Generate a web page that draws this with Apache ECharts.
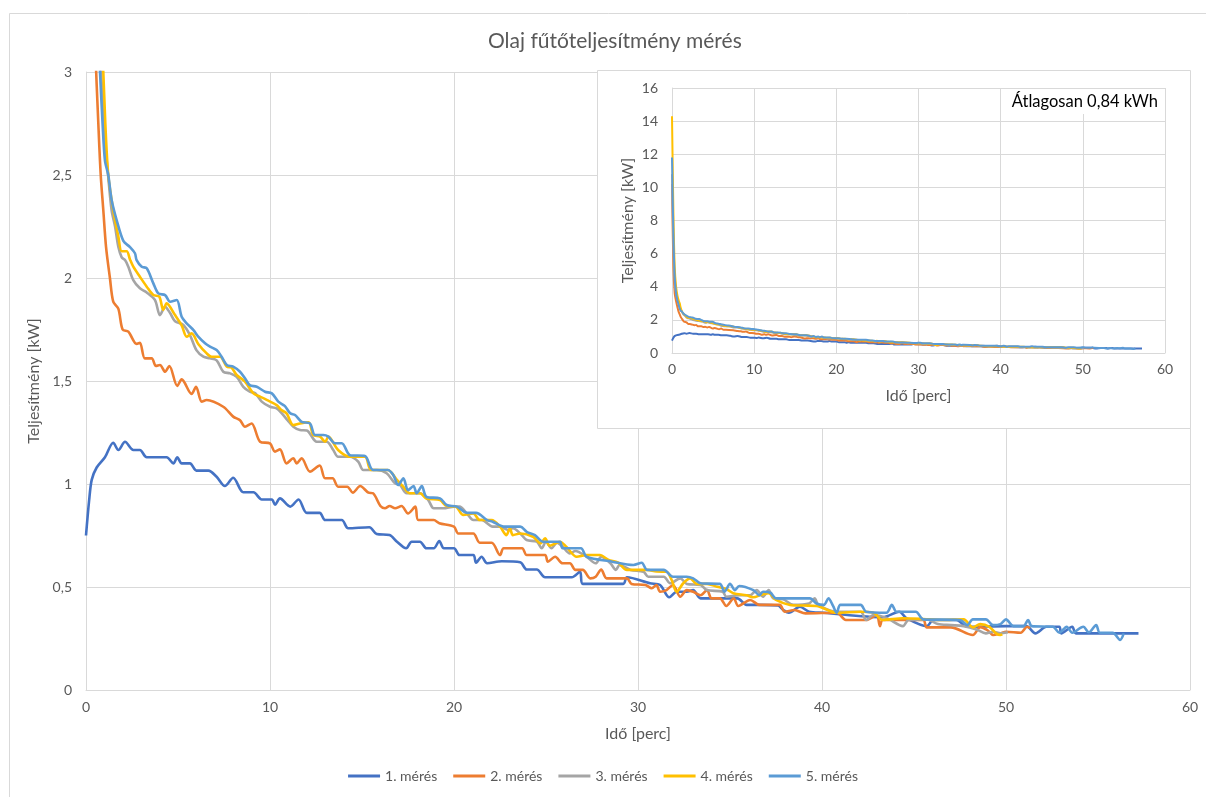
<!DOCTYPE html>
<html>
<head>
<meta charset="utf-8">
<title>Olaj fűtőteljesítmény mérés</title>
<script src="https://cdn.jsdelivr.net/npm/echarts@6/dist/echarts.min.js"></script>
<style>
  html, body { margin: 0; padding: 0; background: #fff; }
  #chart { width: 1206px; height: 797px; }
</style>
</head>
<body>
<div id="chart"></div>
<script>
// Measured heating power, [time in minutes, power in kW]
const seriesNames = ['1. mérés', '2. mérés', '3. mérés', '4. mérés', '5. mérés'];
const seriesColors = ['#4472C4', '#ED7D31', '#A5A5A5', '#FFC000', '#5B9BD5'];

const meres1 = [
  [0, 0.75], [0.17, 0.92], [0.31, 1.02], [0.58, 1.08], [1.03, 1.13], [1.48, 1.2], [1.76, 1.165],
  [2.12, 1.205], [2.57, 1.165], [2.93, 1.165], [3.3, 1.13], [4.38, 1.13], [4.75, 1.1], [4.96, 1.13],
  [5.2, 1.1], [5.65, 1.1], [6.0, 1.065], [6.65, 1.065], [7.1, 1.035], [7.55, 0.99], [8.0, 1.03],
  [8.55, 0.96], [9.1, 0.96], [9.55, 0.925], [10.1, 0.925], [10.27, 0.9], [10.54, 0.93], [11.1, 0.89],
  [11.55, 0.925], [12.0, 0.86], [12.7, 0.86], [13.0, 0.825], [13.9, 0.825], [14.25, 0.785],
  [15.4, 0.79], [15.8, 0.757], [16.5, 0.752], [16.9, 0.72], [17.4, 0.688], [17.7, 0.72],
  [18.15, 0.72], [18.5, 0.688], [18.9, 0.688], [19.2, 0.723], [19.45, 0.688], [20.0, 0.688],
  [20.3, 0.655], [21.05, 0.655], [21.2, 0.618], [21.5, 0.647], [21.8, 0.615], [22.6, 0.625],
  [23.6, 0.62], [23.95, 0.585], [24.5, 0.585], [24.95, 0.547], [26.4, 0.547], [26.85, 0.574],
  [27.0, 0.515], [29.2, 0.515], [29.4, 0.547], [30.65, 0.518], [31.2, 0.51], [31.7, 0.45],
  [32.1, 0.477], [32.65, 0.477], [33.0, 0.485], [33.4, 0.445], [35.4, 0.445], [35.9, 0.413],
  [36.6, 0.413], [37.6, 0.41], [37.9, 0.388], [38.2, 0.375], [38.8, 0.404], [39.3, 0.38],
  [40.1, 0.375], [43.3, 0.353], [44.2, 0.38], [44.6, 0.348], [45.7, 0.31], [46.05, 0.34],
  [47.3, 0.34], [47.9, 0.307], [50.0, 0.31], [51.1, 0.31], [51.6, 0.275], [52.2, 0.307],
  [52.9, 0.307], [53.0, 0.275], [53.6, 0.307], [53.8, 0.275], [57.2, 0.275]
];

const meres2 = [
  [0, 10.2], [0.17, 5.2], [0.33, 3.6], [0.5, 3.12], [0.67, 2.75], [0.8, 2.5], [0.94, 2.33],
  [1.09, 2.15], [1.3, 2.0], [1.48, 1.885], [1.76, 1.85], [1.99, 1.75], [2.3, 1.74], [2.75, 1.68],
  [2.93, 1.686], [3.2, 1.61], [3.57, 1.61], [3.8, 1.573], [4.02, 1.578], [4.3, 1.545],
  [4.53, 1.573], [4.96, 1.476], [5.2, 1.508], [5.74, 1.437], [5.98, 1.472], [6.29, 1.4],
  [6.56, 1.408], [7.46, 1.375], [8.0, 1.327], [8.37, 1.31], [8.64, 1.278], [9.0, 1.294],
  [9.46, 1.205], [10.0, 1.197], [10.27, 1.157], [10.54, 1.168], [10.9, 1.1], [11.27, 1.125],
  [11.45, 1.1], [11.72, 1.125], [12.17, 1.06], [12.7, 1.09], [12.99, 1.028], [13.4, 1.028],
  [13.7, 0.987], [14.2, 0.987], [14.5, 0.958], [14.9, 0.99], [15.35, 0.958], [15.6, 0.955],
  [16.0, 0.893], [16.25, 0.882], [16.5, 0.893], [16.8, 0.882], [17.15, 0.893], [17.5, 0.857],
  [17.9, 0.89], [18.06, 0.825], [18.9, 0.825], [19.2, 0.81], [20.0, 0.793], [20.23, 0.76],
  [21.05, 0.76], [21.4, 0.715], [22.05, 0.715], [22.5, 0.655], [22.7, 0.688], [23.7, 0.688],
  [23.95, 0.655], [24.95, 0.655], [25.1, 0.623], [25.5, 0.647], [25.9, 0.615], [26.3, 0.615],
  [26.6, 0.583], [27.0, 0.583], [27.4, 0.542], [27.7, 0.55], [28.0, 0.585], [28.3, 0.542],
  [29.4, 0.542], [29.65, 0.515], [30.4, 0.51], [30.75, 0.494], [31.0, 0.51], [31.2, 0.477],
  [31.55, 0.485], [31.9, 0.51], [32.3, 0.453], [32.65, 0.485], [33.0, 0.477], [33.4, 0.46],
  [33.75, 0.485], [34.0, 0.445], [34.45, 0.445], [34.8, 0.408], [35.2, 0.445], [35.45, 0.408],
  [36.1, 0.437], [36.6, 0.413], [37.7, 0.413], [37.98, 0.38], [38.5, 0.388], [39.1, 0.372],
  [40.8, 0.375], [41.3, 0.34], [42.4, 0.34], [42.97, 0.364], [43.15, 0.31], [43.3, 0.34],
  [45.5, 0.34], [45.7, 0.304], [47.0, 0.304], [48.2, 0.267], [48.6, 0.305], [49.0, 0.29],
  [49.3, 0.267], [49.7, 0.275], [50.0, 0.283], [50.8, 0.278], [51.15, 0.307], [51.3, 0.3]
];

const meres3 = [
  [0, 10.8], [0.17, 6.5], [0.33, 4.3], [0.5, 3.55], [0.67, 3.2], [0.85, 2.95], [1.0, 2.7],
  [1.2, 2.5], [1.39, 2.33], [1.58, 2.25], [1.76, 2.15], [1.94, 2.1], [2.12, 2.087], [2.3, 2.055],
  [2.57, 1.99], [2.93, 1.95], [3.3, 1.93], [3.75, 1.893], [4.02, 1.82], [4.3, 1.86], [4.57, 1.83],
  [4.84, 1.79], [5.29, 1.772], [5.65, 1.723], [6.0, 1.65], [6.38, 1.618], [6.74, 1.61],
  [7.1, 1.6], [7.46, 1.545], [7.83, 1.537], [8.19, 1.52], [8.55, 1.472], [8.9, 1.448],
  [9.2, 1.44], [9.55, 1.4], [10.0, 1.375], [10.36, 1.367], [10.64, 1.343], [10.95, 1.31],
  [11.27, 1.278], [11.63, 1.262], [12.0, 1.26], [12.54, 1.205], [13.08, 1.205], [13.44, 1.165],
  [13.7, 1.132], [14.35, 1.132], [14.8, 1.108], [15.07, 1.068], [15.8, 1.068], [16.34, 1.052],
  [16.8, 1.003], [17.07, 0.995], [17.43, 0.955], [18.15, 0.955], [18.6, 0.922], [18.9, 0.882],
  [19.42, 0.882], [20.0, 0.89], [20.3, 0.89], [20.7, 0.857], [21.05, 0.825], [21.5, 0.825],
  [22.1, 0.793], [22.5, 0.793], [22.95, 0.777], [23.2, 0.785], [23.6, 0.76], [23.95, 0.728],
  [24.5, 0.72], [24.77, 0.688], [25.0, 0.72], [25.3, 0.688], [25.6, 0.715], [25.9, 0.696],
  [26.3, 0.663], [26.6, 0.675], [27.2, 0.647], [27.7, 0.615], [28.0, 0.647], [28.5, 0.615],
  [28.8, 0.583], [29.0, 0.607], [29.6, 0.583], [30.3, 0.574], [30.56, 0.55], [31.4, 0.55],
  [31.75, 0.518], [32.3, 0.542], [32.65, 0.515], [33.4, 0.51], [33.75, 0.485], [34.6, 0.477],
  [34.8, 0.453], [35.5, 0.46], [36.1, 0.46], [36.45, 0.485], [36.8, 0.453], [37.1, 0.485],
  [37.35, 0.445], [37.9, 0.44], [38.44, 0.413], [39.3, 0.42], [39.6, 0.445], [39.8, 0.413],
  [40.8, 0.38], [42.1, 0.38], [42.4, 0.34], [42.8, 0.364], [43.5, 0.35], [44.4, 0.31],
  [44.7, 0.34], [45.7, 0.343], [46.3, 0.32], [47.0, 0.315], [47.7, 0.31], [48.4, 0.294],
  [48.9, 0.275], [49.3, 0.283], [49.7, 0.275], [50.1, 0.28]
];

const meres4 = [
  [0, 14.3], [0.17, 8.5], [0.33, 5.2], [0.5, 4.0], [0.67, 3.45], [0.83, 3.15], [0.94, 3.0],
  [1.05, 2.75], [1.21, 2.5], [1.48, 2.33], [1.76, 2.2], [1.94, 2.13], [2.21, 2.13], [2.39, 2.09],
  [2.57, 2.055], [2.93, 2.006], [3.3, 1.958], [3.66, 1.917], [3.98, 1.91], [4.2, 1.845],
  [4.38, 1.877], [4.84, 1.82], [5.2, 1.77], [5.47, 1.715], [5.74, 1.731], [6.1, 1.68],
  [6.56, 1.634], [6.83, 1.618], [7.28, 1.618], [7.65, 1.57], [7.9, 1.565], [8.19, 1.529],
  [8.64, 1.497], [9.1, 1.44], [9.46, 1.424], [9.82, 1.408], [10.36, 1.383], [10.6, 1.36],
  [10.9, 1.343], [11.27, 1.286], [11.63, 1.294], [12.1, 1.3], [12.35, 1.238], [12.72, 1.23],
  [13.0, 1.205], [13.17, 1.23], [13.7, 1.165], [14.35, 1.132], [15.16, 1.132], [15.5, 1.068],
  [16.4, 1.068], [16.9, 1.02], [17.24, 0.987], [17.6, 0.955], [18.15, 0.955], [18.5, 0.93],
  [19.24, 0.922], [19.6, 0.893], [20.1, 0.89], [20.5, 0.85], [21.05, 0.857], [21.4, 0.825],
  [22.05, 0.825], [22.5, 0.793], [22.85, 0.752], [23.04, 0.785], [23.2, 0.752], [23.6, 0.76],
  [24.3, 0.744], [24.7, 0.712], [24.95, 0.736], [25.2, 0.7], [25.76, 0.72], [26.1, 0.696],
  [26.67, 0.647], [27.2, 0.655], [27.93, 0.655], [28.4, 0.631], [28.9, 0.62], [29.4, 0.583],
  [30.5, 0.583], [31.0, 0.575], [31.55, 0.574], [31.83, 0.534], [32.1, 0.477], [32.46, 0.518],
  [32.83, 0.542], [33.2, 0.515], [33.75, 0.515], [34.3, 0.501], [34.8, 0.49], [35.18, 0.47],
  [35.9, 0.46], [36.27, 0.45], [36.7, 0.462], [37.1, 0.47], [37.5, 0.437], [38.26, 0.413],
  [39.0, 0.41], [39.7, 0.408], [40.8, 0.375], [42.1, 0.38], [42.8, 0.375], [43.3, 0.34],
  [44.4, 0.348], [45.5, 0.345], [46.5, 0.34], [47.7, 0.343], [48.2, 0.304], [48.6, 0.32],
  [49.1, 0.307], [49.46, 0.275], [49.7, 0.267], [49.8, 0.27]
];

const meres5 = [
  [0, 11.8], [0.17, 7.2], [0.33, 4.6], [0.5, 3.6], [0.67, 3.15], [0.76, 3.0], [0.9, 2.75],
  [1.03, 2.57], [1.21, 2.5], [1.39, 2.38], [1.67, 2.28], [2.03, 2.18], [2.39, 2.15], [2.66, 2.12],
  [2.75, 2.087], [3.03, 2.055], [3.3, 2.047], [3.66, 1.974], [3.93, 1.925], [4.3, 1.917],
  [4.57, 1.885], [4.93, 1.893], [5.2, 1.812], [5.47, 1.78], [5.83, 1.748], [6.1, 1.715],
  [6.47, 1.683], [6.74, 1.667], [7.1, 1.65], [7.37, 1.618], [7.65, 1.578], [8.0, 1.57],
  [8.37, 1.545], [8.64, 1.513], [8.9, 1.48], [9.28, 1.472], [9.73, 1.448], [10.1, 1.44],
  [10.45, 1.4], [10.8, 1.379], [11.1, 1.343], [11.36, 1.335], [11.72, 1.302], [12.17, 1.294],
  [12.45, 1.238], [12.9, 1.238], [13.17, 1.23], [13.53, 1.198], [13.9, 1.198], [14.35, 1.14],
  [15.16, 1.136], [15.6, 1.068], [16.4, 1.068], [16.7, 1.044], [16.97, 0.995], [17.25, 1.028],
  [17.5, 0.97], [17.8, 0.99], [17.97, 0.955], [18.25, 0.99], [18.5, 0.938], [19.24, 0.93],
  [19.6, 0.898], [20.15, 0.89], [20.7, 0.86], [21.2, 0.86], [21.8, 0.825], [22.1, 0.817],
  [22.7, 0.793], [23.6, 0.793], [23.95, 0.768], [24.4, 0.752], [24.85, 0.72], [25.76, 0.72],
  [25.9, 0.688], [26.9, 0.688], [27.2, 0.647], [28.6, 0.623], [29.75, 0.607], [30.2, 0.618],
  [30.5, 0.583], [31.4, 0.583], [31.9, 0.55], [32.65, 0.55], [33.0, 0.542], [33.4, 0.518],
  [34.45, 0.515], [34.7, 0.477], [35.0, 0.515], [35.27, 0.485], [35.5, 0.505], [36.27, 0.485],
  [36.6, 0.46], [36.8, 0.477], [37.2, 0.472], [37.5, 0.445], [39.35, 0.445], [39.7, 0.42],
  [40.1, 0.413], [40.35, 0.445], [40.6, 0.408], [40.8, 0.375], [41.0, 0.413], [42.1, 0.413],
  [42.4, 0.38], [43.5, 0.375], [43.8, 0.413], [44.05, 0.38], [45.1, 0.38], [45.5, 0.343],
  [47.5, 0.34], [47.9, 0.315], [48.2, 0.343], [48.9, 0.343], [49.3, 0.315], [49.7, 0.32],
  [50.0, 0.343], [50.4, 0.31], [50.95, 0.31], [51.2, 0.34], [51.4, 0.31], [52.55, 0.307],
  [52.9, 0.278], [53.3, 0.307], [53.6, 0.278], [54.2, 0.307], [54.5, 0.28], [54.9, 0.315],
  [55.1, 0.278], [55.8, 0.278], [56.2, 0.243], [56.4, 0.275]
];

const allMeasurements = [meres1, meres2, meres3, meres4, meres5];

const chartTitle = 'Olaj fűtőteljesítmény mérés';
const xAxisTitle = 'Idő [perc]';
const yAxisTitle = 'Teljesítmény [kW]';
const insetNote = 'Átlagosan 0,84 kWh';

const FONT = 'Lato, "Noto Sans", sans-serif';
const TEXT_GREY = '#595959';
const GRID_GREY = '#d9d9d9';

// Hungarian decimal comma on the value axis
const commaFormat = v => String(v).replace('.', ',');

function axisCommon(extra) {
  return Object.assign({
    type: 'value',
    axisLine: { show: true, lineStyle: { color: GRID_GREY, width: 1 } },
    axisTick: { show: false },
    splitLine: { show: true, lineStyle: { color: GRID_GREY, width: 1 } },
    nameLocation: 'middle',
    nameTextStyle: { color: TEXT_GREY, fontFamily: FONT, fontSize: 16 }
  }, extra);
}

function tickLabels(margin, formatter) {
  const o = { color: TEXT_GREY, fontFamily: FONT, fontSize: 14, margin: margin };
  if (formatter) o.formatter = formatter;
  return o;
}

const series = [];
allMeasurements.forEach((data, i) => {
  // main chart (0..3 kW view)
  series.push({
    name: seriesNames[i], type: 'line', xAxisIndex: 0, yAxisIndex: 0,
    data: data, showSymbol: false, symbol: 'none', smooth: 0.3,
    clip: true, z: 3 + i,
    lineStyle: { color: seriesColors[i], width: 2.6 },
    itemStyle: { color: seriesColors[i] }
  });
});
allMeasurements.forEach((data, i) => {
  // inset (full range)
  series.push({
    name: seriesNames[i], type: 'line', xAxisIndex: 1, yAxisIndex: 1,
    data: data, showSymbol: false, symbol: 'none', smooth: 0.3,
    clip: true, z: 30 + i, legendHoverLink: false,
    lineStyle: { color: seriesColors[i], width: 2 },
    itemStyle: { color: seriesColors[i] }
  });
});

const chart = echarts.init(document.getElementById('chart'), null, { renderer: 'canvas' });
chart.setOption({
  backgroundColor: '#ffffff',
  animation: false,
  title: {
    text: chartTitle, left: 483, top: 26,
    textStyle: { color: TEXT_GREY, fontFamily: FONT, fontSize: 21, fontWeight: 'normal' }
  },
  legend: {
    data: seriesNames, bottom: 9, left: 'center',
    icon: 'rect', itemWidth: 32, itemHeight: 3, itemGap: 16,
    textStyle: { color: TEXT_GREY, fontFamily: FONT, fontSize: 14 }
  },
  grid: [
    { left: 86, right: 16, top: 72, bottom: 107 },
    { left: 672, right: 41, top: 88, bottom: 444, z: 20 }
  ],
  xAxis: [
    axisCommon({ gridIndex: 0, min: 0, max: 60, interval: 10, name: xAxisTitle, nameGap: 36,
      axisLabel: tickLabels(10) }),
    axisCommon({ gridIndex: 1, min: 0, max: 60, interval: 10, name: xAxisTitle, nameGap: 35, z: 20,
      axisLabel: tickLabels(9) })
  ],
  yAxis: [
    axisCommon({ gridIndex: 0, min: 0, max: 3, interval: 0.5, name: yAxisTitle, nameGap: 38,
      axisLabel: tickLabels(14, commaFormat) }),
    axisCommon({ gridIndex: 1, min: 0, max: 16, interval: 2, name: yAxisTitle, nameGap: 36, z: 20,
      axisLabel: tickLabels(14, commaFormat) })
  ],
  graphic: [
    // outer chart frame
    { type: 'rect', left: 7, top: 11, z: 1, silent: true,
      shape: { width: 1210, height: 800 },
      style: { fill: 'none', stroke: GRID_GREY, lineWidth: 1 } },
    // inset panel
    { type: 'rect', left: 597, top: 70, z: 15, silent: true,
      shape: { width: 593, height: 358 },
      style: { fill: '#ffffff', stroke: GRID_GREY, lineWidth: 1 } },
    // inset note
    { type: 'text', right: 44, top: 89, z: 50, silent: true,
      style: { text: insetNote, fill: '#000000', font: '16.5px ' + FONT,
        backgroundColor: '#ffffff', padding: [4, 4, 4, 4] } }
  ],
  series: series
});
</script>
</body>
</html>
